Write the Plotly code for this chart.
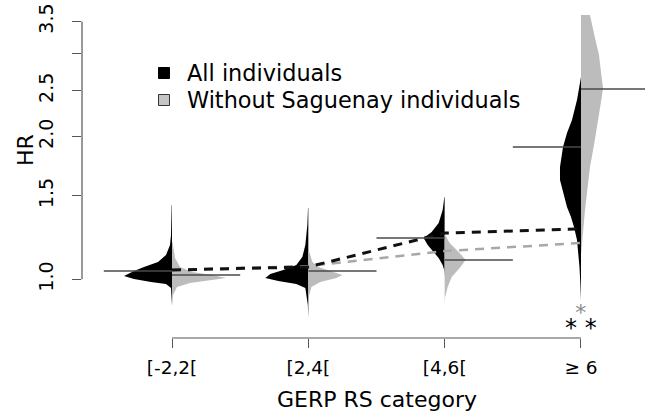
import math
import plotly.graph_objects as go

# ---------------- data ----------------
categories = ["[-2,2[", "[2,4[", "[4,6[", "≥ 6"]
cat_pos = [1, 2, 3, 4]

# density profiles (HR value, relative half-width)
hr_all_1 = [1.435, 1.240, 1.181, 1.125, 1.088, 1.062, 1.041, 1.016, 1.001, 0.987, 0.977, 0.959, 0.883]
dn_all_1 = [0.3, 1, 2, 6, 14, 28, 38, 48, 38, 21, 6, 1, 0.3]
hr_wo_1 = [1.199, 1.109, 1.062, 1.036, 1.021, 1.006, 0.997, 0.982, 0.963, 0.927, 0.883]
dn_wo_1 = [0.5, 3, 8, 20, 40, 54, 40, 18, 5, 1, 0.3]

hr_all_2 = [1.414, 1.302, 1.181, 1.114, 1.072, 1.046, 1.026, 1.006, 0.992, 0.977, 0.959, 0.883, 0.829]
dn_all_2 = [0.3, 1, 3, 6, 12, 25, 38, 43, 30, 12, 3, 0.5, 0.2]
hr_wo_2 = [1.142, 1.088, 1.062, 1.041, 1.021, 1.006, 0.987, 0.963, 0.927]
dn_wo_2 = [1, 4, 10, 22, 34, 28, 12, 3, 1]

hr_all_3 = [1.492, 1.400, 1.315, 1.258, 1.222, 1.181, 1.142, 1.109, 1.072, 1.046, 1.011]
dn_all_3 = [0.3, 2, 6, 13, 21, 17, 11, 6, 2, 0.5, 0.1]
hr_wo_3 = [1.240, 1.193, 1.142, 1.098, 1.056, 1.011, 0.963, 0.918, 0.891]
dn_wo_3 = [0.5, 5, 14, 21, 15, 7, 3, 0.5, 0.1]

hr_all_4 = [2.672, 2.389, 2.168, 2.035, 1.902, 1.726, 1.620, 1.521, 1.421, 1.353, 1.289, 1.210, 1.153, 1.062, 0.982, 0.904]
dn_all_4 = [0, 4, 9, 14, 18, 21, 21, 18, 14, 10, 7, 4, 3, 1.5, 0.7, 0]
hr_wo_4 = [3.611, 3.229, 2.973, 2.738, 2.533, 2.366, 2.147, 1.920, 1.726, 1.543, 1.400, 1.289, 1.193, 1.125]
dn_wo_4 = [9, 14, 18, 20, 22, 20, 17, 13, 9, 6, 4, 2.5, 1, 0]

# bean lines (per side)
line_all = [1.041, None, 1.222, 1.901]
line_wo = [1.021, 1.041, 1.098, 2.52]

# dashed trend lines
trend_all = [1.046, 1.062, 1.252, 1.277]
trend_wo = [1.046, 1.067, 1.147, 1.193]

y_tickvals = [1.0, 1.5, 2.0, 2.5, 3.0, 3.5]
y_ticktext = ["1.0", "1.5", "2.0", "2.5", "", "3.5"]

# ---------------- styling ----------------
W, H = 652, 414
L, R, T, B = 82, 7, 10, 76
PW, PH = W - L - R, H - T - B
PX_PER_X = 136.33
X0 = 1 - 90 / PX_PER_X
X1 = X0 + PW / PX_PER_X
PX_PER_LOG = 474.0
Y_BASE = 279.3 - T  # pixel (within plot) of HR=1
YR0 = -(PH - Y_BASE) / PX_PER_LOG
YR1 = Y_BASE / PX_PER_LOG
DENS_SCALE = 1 / PX_PER_X
FONT = "DejaVu Sans"
BLACK = "#000000"
GRAY = "#bcbcbc"
AXIS = "#555555"


def fx(px):
    return (px - L) / PW


def fy(py):
    return (T + PH - py) / PH


def fy_val(v):
    return (math.log10(v) - YR0) / (YR1 - YR0)


fig = go.Figure()

all_profiles = [(hr_all_1, dn_all_1), (hr_all_2, dn_all_2), (hr_all_3, dn_all_3), (hr_all_4, dn_all_4)]
wo_profiles = [(hr_wo_1, dn_wo_1), (hr_wo_2, dn_wo_2), (hr_wo_3, dn_wo_3), (hr_wo_4, dn_wo_4)]

for c, (hr, dn) in zip(cat_pos, all_profiles):
    xs = [c] + [c - d * DENS_SCALE for d in dn] + [c]
    ys = [hr[0]] + hr + [hr[-1]]
    fig.add_trace(go.Scatter(x=xs, y=ys, fill="toself", fillcolor=BLACK, mode="lines",
                             line=dict(width=0, color=BLACK), showlegend=False, hoverinfo="skip"))
for c, (hr, dn) in zip(cat_pos, wo_profiles):
    xs = [c] + [c + d * DENS_SCALE for d in dn] + [c]
    ys = [hr[0]] + hr + [hr[-1]]
    fig.add_trace(go.Scatter(x=xs, y=ys, fill="toself", fillcolor=GRAY, mode="lines",
                             line=dict(width=0, color=GRAY), showlegend=False, hoverinfo="skip"))

# dashed trend lines
fig.add_trace(go.Scatter(x=cat_pos, y=trend_wo, mode="lines",
                         line=dict(color="#a8a8a8", width=2.5, dash="9px,7px"),
                         showlegend=False, hoverinfo="skip"))
fig.add_trace(go.Scatter(x=cat_pos, y=trend_all, mode="lines",
                         line=dict(color="#111111", width=3, dash="9px,7px"),
                         showlegend=False, hoverinfo="skip"))

# bean lines
for c, v in zip(cat_pos, line_all):
    if v is None:
        continue
    fig.add_trace(go.Scatter(x=[c - 0.5, c], y=[v, v], mode="lines",
                             line=dict(color="#4a4a4a", width=1.5), showlegend=False, hoverinfo="skip"))
for c, v in zip(cat_pos, line_wo):
    fig.add_trace(go.Scatter(x=[c, c + 0.5], y=[v, v], mode="lines",
                             line=dict(color="#4a4a4a", width=1.5), showlegend=False, hoverinfo="skip"))

shapes = [
    # y axis line (R style, spans tick range)
    dict(type="line", xref="paper", yref="paper", x0=0, x1=0,
         y0=fy_val(y_tickvals[0]), y1=fy_val(y_tickvals[-1]), line=dict(color=AXIS, width=1.2)),
    # x axis line
    dict(type="line", xref="x", yref="paper", x0=cat_pos[0], x1=cat_pos[-1], y0=0, y1=0,
         line=dict(color=AXIS, width=1.2)),
    # legend keys
    dict(type="rect", xref="paper", yref="paper", x0=fx(158.5), x1=fx(169.5), y0=fy(78.5), y1=fy(67.5),
         fillcolor=BLACK, line=dict(color=BLACK, width=1)),
    dict(type="rect", xref="paper", yref="paper", x0=fx(158.5), x1=fx(169.5), y0=fy(105.5), y1=fy(94.5),
         fillcolor="#c4c4c4", line=dict(color="#333333", width=1)),
]

stars = ("<span style='font-size:22px;color:#8a8a8a'>*</span><br>"
         "<span style='font-size:24px'>* *</span>")

annotations = [
    dict(text="All individuals", xref="paper", yref="paper", x=fx(185), y=fy(73),
         xanchor="left", yanchor="middle", showarrow=False, font=dict(family=FONT, size=22.4, color=BLACK)),
    dict(text="Without Saguenay individuals", xref="paper", yref="paper", x=fx(185), y=fy(100),
         xanchor="left", yanchor="middle", showarrow=False, font=dict(family=FONT, size=22.4, color=BLACK)),
    dict(text="HR", xref="paper", yref="paper", x=fx(25), y=fy(150), textangle=-90,
         xanchor="center", yanchor="middle", showarrow=False, font=dict(family=FONT, size=22, color=BLACK)),
    dict(text="GERP RS category", xref="x", yref="paper", x=2.5, y=fy(399),
         xanchor="center", yanchor="middle", showarrow=False, font=dict(family=FONT, size=22, color=BLACK)),
    dict(text=stars, xref="x", yref="paper", x=4, y=fy(321),
         xanchor="center", yanchor="middle", showarrow=False, font=dict(family=FONT, size=12.5, color=BLACK)),
]

fig.update_layout(
    width=W, height=H,
    margin=dict(l=L, r=R, t=T, b=B, autoexpand=False),
    paper_bgcolor="white", plot_bgcolor="white",
    showlegend=False,
    font=dict(family=FONT, color=BLACK),
    shapes=shapes, annotations=annotations,
    xaxis=dict(range=[X0, X1], tickvals=cat_pos, ticktext=categories, ticks="outside", ticklen=9,
               tickcolor=AXIS, tickwidth=1.2, showline=False, showgrid=False, zeroline=False,
               tickfont=dict(family=FONT, size=18.5, color=BLACK), ticklabelstandoff=4),
    yaxis=dict(type="log", range=[YR0, YR1], tickvals=y_tickvals, ticktext=y_ticktext, ticks="outside",
               ticklen=9, tickcolor=AXIS, tickwidth=1.2, showline=False, showgrid=False, zeroline=False,
               tickangle=-90, tickfont=dict(family=FONT, size=19, color=BLACK), ticklabelstandoff=11),
)

fig.write_html("out.html")
